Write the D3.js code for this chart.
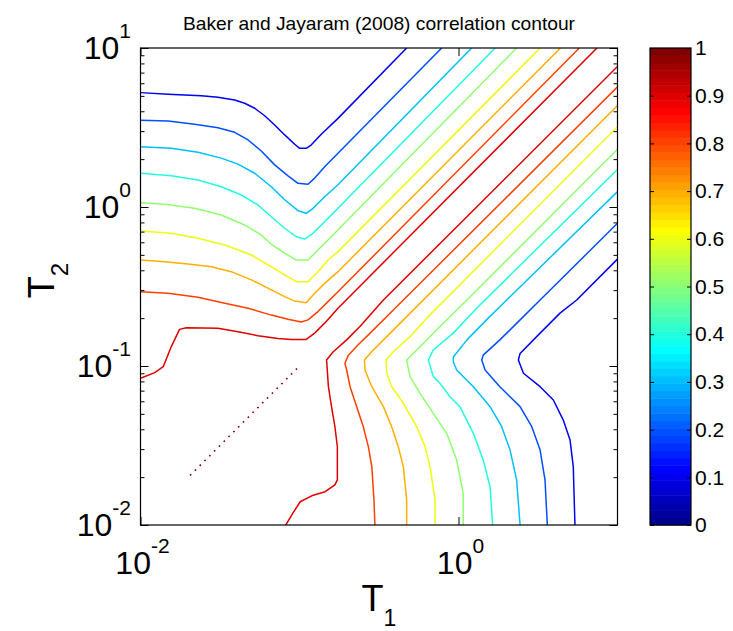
<!DOCTYPE html>
<html lang="en">
<head>
  <meta charset="UTF-8">
  <title>Baker and Jayaram (2008) correlation contour</title>
  <script src="https://d3js.org/d3.v7.min.js"></script>
  <style>
    body { margin: 0; background: #fff; }
    text { font-family: "Liberation Sans", Arial, sans-serif; fill: #000; }
  </style>
</head>
<body>
<svg id="chart" width="733" height="631"></svg>

<script>
  // Contour levels of the correlation coefficient
  let levels = [0.1, 0.2, 0.3, 0.4, 0.5, 0.6, 0.7, 0.8, 0.9];

  // Upper-left branch of each contour, [T1, T2] in seconds
  let upperCurves = [
    [[0.01,5.24],[0.0149,5.12],[0.0241,5.01],[0.0307,4.90],[0.0391,4.71],[0.0452,4.49],[0.0523,4.18],[0.0604,3.75],[0.0698,3.28],[0.0807,2.84],[0.0933,2.48],[0.1003,2.34],[0.1103,2.34],[0.1187,2.46],[0.1371,2.87],[0.1746,3.61],[0.472,10]],
    [[0.01,3.51],[0.0149,3.48],[0.0219,3.31],[0.0307,3.15],[0.0391,2.95],[0.0475,2.64],[0.0575,2.25],[0.0698,1.84],[0.0847,1.57],[0.0979,1.41],[0.1131,1.39],[0.1246,1.52],[0.144,1.79],[0.1746,2.18],[0.784,10]],
    [[0.01,2.39],[0.0156,2.34],[0.023,2.21],[0.0322,2.03],[0.041,1.86],[0.0523,1.63],[0.0665,1.34],[0.0807,1.11],[0.0979,0.948],[0.1103,0.913],[0.1216,0.981],[0.144,1.16],[0.1746,1.38],[1.21,10]],
    [[0.01,1.63],[0.0156,1.57],[0.023,1.48],[0.0322,1.34],[0.0431,1.19],[0.0548,1.03],[0.0665,0.869],[0.0807,0.735],[0.0955,0.650],[0.1078,0.629],[0.1216,0.683],[0.144,0.808],[0.1746,0.981],[1.70,10]],
    [[0.01,1.064],[0.0142,1.04],[0.0219,0.981],[0.0322,0.891],[0.0452,0.771],[0.0575,0.667],[0.0662,0.585],[0.0807,0.512],[0.0955,0.464],[0.1131,0.464],[0.1307,0.537],[0.1511,0.620],[2.32,10]],
    [[0.01,0.706],[0.0156,0.683],[0.023,0.636],[0.0339,0.577],[0.0498,0.499],[0.0665,0.421],[0.0807,0.374],[0.0955,0.339],[0.1131,0.339],[0.1307,0.392],[0.1511,0.464],[0.1746,0.524],[3.26,10]],
    [[0.01,0.464],[0.0142,0.453],[0.0199,0.438],[0.0279,0.421],[0.0372,0.392],[0.0498,0.348],[0.0665,0.301],[0.0807,0.273],[0.0933,0.256],[0.1103,0.250],[0.1246,0.287],[0.144,0.331],[0.1746,0.392],[4.38,10]],
    [[0.01,0.293],[0.0149,0.287],[0.023,0.271],[0.0339,0.248],[0.0475,0.231],[0.0665,0.209],[0.0847,0.197],[0.1026,0.189],[0.1131,0.195],[0.1307,0.220],[0.1511,0.254],[0.1746,0.293],[5.75,10]],
    [[0.01,0.0837],[0.0123,0.0908],[0.0139,0.099],[0.0156,0.132],[0.0176,0.170],[0.0194,0.174],[0.0307,0.173],[0.041,0.164],[0.0548,0.155],[0.0732,0.149],[0.0888,0.147],[0.1103,0.147],[0.1246,0.161],[0.144,0.186],[0.1746,0.231],[7.43,10]]
  ];

  // Lower-right branch of each contour, [T1, T2]
  let lowerCurves = [
    [[5.40,0.01],[5.27,0.0233],[5.03,0.0342],[4.56,0.0457],[3.95,0.0611],[3.26,0.0741],[2.56,0.09],[2.38,0.109],[2.44,0.120],[3.26,0.161],[4.35,0.215],[5.54,0.26],[10,0.47]],
    [[3.62,0.01],[3.50,0.0192],[3.26,0.0296],[2.89,0.0415],[2.44,0.0555],[1.82,0.0741],[1.47,0.0944],[1.40,0.109],[1.43,0.117],[1.82,0.146],[2.44,0.195],[3.26,0.26],[10,0.79]],
    [[2.44,0.01],[2.32,0.0192],[2.11,0.0296],[1.87,0.0415],[1.58,0.0555],[1.24,0.0741],[0.974,0.0944],[0.928,0.106],[0.928,0.114],[1.13,0.146],[1.50,0.195],[2.01,0.26],[10,1.25]],
    [[1.64,0.01],[1.58,0.0174],[1.43,0.0256],[1.24,0.0377],[1.02,0.0555],[0.884,0.0641],[0.765,0.0778],[0.694,0.0857],[0.646,0.109],[0.694,0.126],[0.928,0.161],[1.30,0.231],[10,1.72]],
    [[1.07,0.01],[1.07,0.0158],[0.974,0.0256],[0.843,0.0377],[0.694,0.0504],[0.573,0.0673],[0.496,0.0857],[0.472,0.109],[0.573,0.132],[0.765,0.177],[1.13,0.26],[10,2.31]],
    [[0.712,0.01],[0.712,0.0144],[0.662,0.0233],[0.616,0.0311],[0.546,0.0415],[0.450,0.0583],[0.380,0.0741],[0.354,0.09],[0.350,0.109],[0.389,0.123],[0.496,0.153],[0.631,0.200],[10,3.2]],
    [[0.472,0.01],[0.472,0.0144],[0.450,0.0233],[0.418,0.0311],[0.380,0.0415],[0.337,0.0555],[0.285,0.0741],[0.258,0.0944],[0.256,0.109],[0.291,0.126],[0.354,0.153],[0.450,0.195],[10,4.35]],
    [[0.298,0.01],[0.294,0.0144],[0.285,0.0233],[0.271,0.0311],[0.252,0.0415],[0.229,0.0555],[0.208,0.0741],[0.198,0.0944],[0.193,0.104],[0.203,0.117],[0.234,0.136],[0.278,0.161],[0.429,0.248],[10,5.7]],
    [[0.082,0.01],[0.0905,0.0118],[0.101,0.014],[0.122,0.0154],[0.145,0.0162],[0.167,0.0179],[0.173,0.0192],[0.173,0.0311],[0.167,0.0415],[0.159,0.0555],[0.152,0.0741],[0.148,0.109],[0.163,0.123],[0.198,0.146],[0.240,0.177],[0.337,0.26],[10,7.65]]
  ];

  // The rho = 1 contour shows up as a dotted piece of the diagonal
  let unitLevel = 1;
  let unitCurve = [[0.0205,0.0205],[0.101,0.101]];

  // Axis ticks and labels
  let xTicks = [0.01, 1];
  let xTickExp = ["-2", "0"];
  let yTicks = [0.01, 0.1, 1, 10];
  let yTickExp = ["-2", "-1", "0", "1"];
  let cbTicks = [0, 0.1, 0.2, 0.3, 0.4, 0.5, 0.6, 0.7, 0.8, 0.9, 1];
  let cbLabels = ["0", "0.1", "0.2", "0.3", "0.4", "0.5", "0.6", "0.7", "0.8", "0.9", "1"];

  // MATLAB jet colormap, 64 entries
  let nColors = 64;
  function jet(v) {
    let c = t => Math.round(255 * Math.max(0, Math.min(1, t)));
    return d3.rgb(c(1.5 - Math.abs(4 * v - 3)), c(1.5 - Math.abs(4 * v - 2)), c(1.5 - Math.abs(4 * v - 1))).toString();
  }
  // colour used for a level: index into the 64 colour table
  function levelColor(v) {
    let k = Math.min(nColors, Math.floor(v * nColors) + 1);
    return jet(k / nColors);
  }

  let svg = d3.select("#chart");
  let pL = 140.5, pR = 617.5, pT = 48, pB = 525;

  let x = d3.scaleLog().domain([0.01, 10]).range([pL, pR]);
  let y = d3.scaleLog().domain([0.01, 10]).range([pB, pT]);

  // Title
  svg.append("text")
          .attr("x", (pL + pR) / 2)
          .attr("y", 30)
          .attr("text-anchor", "middle")
          .attr("font-size", 19)
          .attr("textLength", 392)
          .attr("lengthAdjust", "spacingAndGlyphs")
          .text("Baker and Jayaram (2008) correlation contour");

  svg.append("clipPath").attr("id", "plotclip")
          .append("rect").attr("x", pL).attr("y", pT)
          .attr("width", pR - pL).attr("height", pB - pT);

  let line = d3.line().x(d => x(d[0])).y(d => y(d[1]));
  let plot = svg.append("g").attr("clip-path", "url(#plotclip)");

  // Contour lines, both branches per level
  levels.forEach((lv, i) => {
    [upperCurves[i], lowerCurves[i]].forEach(curve => {
      plot.append("path")
              .attr("d", line(curve))
              .attr("fill", "none")
              .attr("stroke", levelColor(lv))
              .attr("stroke-width", 1.5)
              .attr("stroke-linejoin", "round");
    });
  });

  plot.append("path")
          .attr("d", line(unitCurve))
          .attr("fill", "none")
          .attr("stroke", levelColor(unitLevel))
          .attr("stroke-width", 1.6)
          .attr("stroke-dasharray", "1.6 5.2");

  // Axes: ticks point inward, on all four sides
  function styleAxis(g) {
    g.select(".domain").remove();
    g.selectAll(".tick line").attr("stroke", "#000");
    g.selectAll(".tick text").remove();
  }
  let minorY = y.ticks().filter(t => !yTicks.some(m => Math.abs(m - t) < 1e-9));

  svg.append("g").attr("transform", `translate(0,${pB})`)
          .call(d3.axisBottom(x).tickValues(xTicks).tickSize(-8)).call(styleAxis);
  svg.append("g").attr("transform", `translate(0,${pT})`)
          .call(d3.axisTop(x).tickValues(xTicks).tickSize(-8)).call(styleAxis);
  svg.append("g").attr("transform", `translate(${pL},0)`)
          .call(d3.axisLeft(y).tickValues(yTicks).tickSize(-8)).call(styleAxis);
  svg.append("g").attr("transform", `translate(${pL},0)`)
          .call(d3.axisLeft(y).tickValues(minorY).tickSize(-4)).call(styleAxis);
  svg.append("g").attr("transform", `translate(${pR},0)`)
          .call(d3.axisRight(y).tickValues(yTicks).tickSize(-8)).call(styleAxis);
  svg.append("g").attr("transform", `translate(${pR},0)`)
          .call(d3.axisRight(y).tickValues(minorY).tickSize(-4)).call(styleAxis);

  svg.append("rect")
          .attr("x", pL).attr("y", pT)
          .attr("width", pR - pL).attr("height", pB - pT)
          .attr("fill", "none").attr("stroke", "#000").attr("stroke-width", 1.2);

  // Tick labels as 10 with a superscript exponent
  yTicks.forEach((t, i) => {
    let label = svg.append("text")
            .attr("x", 131)
            .attr("y", y(t) + 11)
            .attr("text-anchor", "end");
    label.append("tspan").attr("font-size", 32).text("10");
    label.append("tspan").attr("font-size", 21).attr("dy", -21).text(yTickExp[i]);
  });
  xTicks.forEach((t, i) => {
    let label = svg.append("text")
            .attr("x", x(t) + 2)
            .attr("y", 574)
            .attr("text-anchor", "middle");
    label.append("tspan").attr("font-size", 32).text("10");
    label.append("tspan").attr("font-size", 21).attr("dy", -21).text(xTickExp[i]);
  });

  // Axis titles
  let xTitle = svg.append("text")
          .attr("x", (pL + pR) / 2)
          .attr("y", 611)
          .attr("text-anchor", "middle");
  xTitle.append("tspan").attr("font-size", 36).text("T");
  xTitle.append("tspan").attr("font-size", 23).attr("dy", 15).text("1");

  let yTitle = svg.append("text")
          .attr("transform", `translate(54,${(pT + pB) / 2 - 6}) rotate(-90)`)
          .attr("text-anchor", "middle");
  yTitle.append("tspan").attr("font-size", 36).text("T");
  yTitle.append("tspan").attr("font-size", 24).attr("dy", 14).text("2");

  // Colorbar
  let cbLeft = 650, cbRight = 691;
  let cb = d3.scaleLinear().domain([0, 1]).range([pB, pT]);
  let bands = d3.range(1, nColors + 1);
  svg.append("g").selectAll("rect")
          .data(bands)
          .enter().append("rect")
          .attr("x", cbLeft)
          .attr("y", k => cb(k / nColors))
          .attr("width", cbRight - cbLeft)
          .attr("height", k => cb((k - 1) / nColors) - cb(k / nColors) + 0.5)
          .attr("fill", k => jet(k / nColors));

  svg.append("g").attr("transform", `translate(${cbLeft},0)`)
          .call(d3.axisLeft(cb).tickValues(cbTicks).tickSize(-4)).call(styleAxis);
  let cbAxis = svg.append("g").attr("transform", `translate(${cbRight},0)`)
          .call(d3.axisRight(cb).tickValues(cbTicks).tickSize(-4).tickPadding(4)
                  .tickFormat((d, i) => cbLabels[i]));
  cbAxis.select(".domain").remove();
  cbAxis.selectAll(".tick line").attr("stroke", "#000");
  cbAxis.selectAll(".tick text")
          .attr("font-size", 21)
          .attr("font-family", "'Liberation Sans', Arial, sans-serif")
          .attr("fill", "#000");

  svg.append("rect")
          .attr("x", cbLeft).attr("y", pT)
          .attr("width", cbRight - cbLeft).attr("height", pB - pT)
          .attr("fill", "none").attr("stroke", "#000").attr("stroke-width", 1.2);
</script>
</body>
</html>
